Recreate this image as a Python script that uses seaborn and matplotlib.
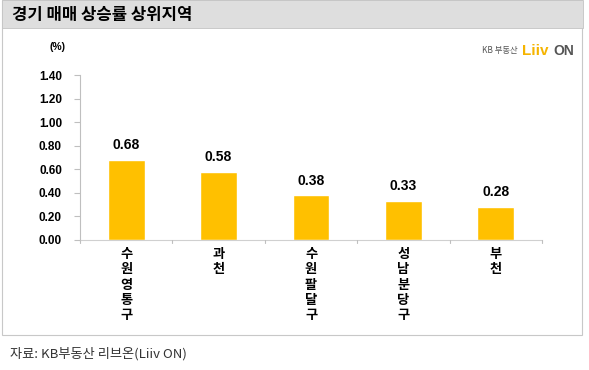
import matplotlib
matplotlib.use("Agg")
import matplotlib.pyplot as plt
import seaborn as sns
import pandas as pd
from matplotlib.patches import Rectangle

regions = ["수원 영통구", "과천", "수원 팔달구", "성남 분당구", "부천"]
values = [0.68, 0.58, 0.38, 0.33, 0.28]
yticks = [0.0, 0.2, 0.4, 0.6, 0.8, 1.0, 1.2, 1.4]
title = "경기 매매 상승률 상위지역"
unit = "(%)"
source = "자료: KB부동산 리브온(Liiv ON)"

sns.set_theme(style="white")
KR = ["Noto Sans CJK KR", "DejaVu Sans"]
LAT = ["Liberation Sans", "DejaVu Sans"]
plt.rcParams["font.family"] = KR

df = pd.DataFrame({"region": regions, "value": values})

W, H = 589, 370
fig = plt.figure(figsize=(W / 100, H / 100), dpi=100)

# frame and header band
fig.patches.append(Rectangle((2 / W, 1 - 335 / H), 580 / W, 335 / H, transform=fig.transFigure,
                             facecolor="white", edgecolor="#c8c8c8", lw=0.8, zorder=-2))
fig.patches.append(Rectangle((2 / W, 1 - 28 / H), 581 / W, 28 / H, transform=fig.transFigure,
                             facecolor="#dedede", edgecolor="#c4c4c4", lw=0.6, zorder=-1))
fig.text(12 / W, 1 - 15 / H, title, fontsize=12, fontweight="bold", va="center", ha="left",
         color="black", family=KR)

ax = fig.add_axes([80 / W, 1 - 240 / H, 462 / W, 165 / H])
ax.set_zorder(5)
ax.patch.set_alpha(0)
sns.barplot(data=df, x="region", y="value", color="#FFC000", width=0.4, saturation=1, ax=ax, zorder=2)
ax.set_ylim(0, 1.4)
ax.set_xlim(-0.5, len(regions) - 0.5)
ax.set_yticks(yticks)
ax.set_yticklabels([f"{v:.2f}" for v in yticks], fontsize=8.5, fontweight="bold", family=LAT)
ax.set_xlabel("")
ax.set_ylabel("")
ax.set_xticks([i for i in range(len(regions))])
ax.set_xticklabels([])
ax.tick_params(axis="x", length=0)
ax.tick_params(axis="y", length=4, width=0.8, color="#bfbfbf", pad=9, left=True, direction="out",
               labelcolor="black")
for s in ["top", "right"]:
    ax.spines[s].set_visible(False)
ax.spines["left"].set_color("#bfbfbf")
ax.spines["bottom"].set_color("#d0d0d0")
ax.spines["left"].set_linewidth(0.8)
ax.spines["bottom"].set_linewidth(0.8)

# category boundary ticks
for b in range(len(regions) + 1):
    ax.plot([b - 0.5, b - 0.5], [0, -0.025], color="#bfbfbf", lw=0.8, clip_on=False, zorder=3)

# value labels
for i, v in enumerate(values):
    ax.text(i, v + 0.065, f"{v:.2f}", ha="center", va="bottom", fontsize=10, fontweight="bold",
            color="black", family=LAT)

# stacked vertical category labels
for i, r in enumerate(regions):
    stacked = "\n".join(ch for ch in r if ch != " ")
    ax.text(i, -0.06, stacked, ha="center", va="top", fontsize=9.5, fontweight="bold",
            linespacing=1.12, color="black", family=KR)

fig.text(58 / W, 1 - 47 / H, unit, fontsize=7.5, fontweight="bold", ha="center", va="center",
         color="black", family=LAT)

# logo
fig.text(482 / W, 1 - 51 / H, "KB 부동산", fontsize=6, color="#555555", ha="left", va="center", family=KR)
fig.text(522 / W, 1 - 51 / H, "Liiv", fontsize=11, color="#F5B400", ha="left", va="center",
         fontweight="bold", family=LAT)
fig.text(553 / W, 1 - 51 / H, "ON", fontsize=10, color="#555555", ha="left", va="center",
         fontweight="bold", family=LAT)

fig.text(10 / W, 1 - 354 / H, source, fontsize=9.5, color="#333333", ha="left", va="center", family=KR)

fig.savefig("out.png", dpi=100)
